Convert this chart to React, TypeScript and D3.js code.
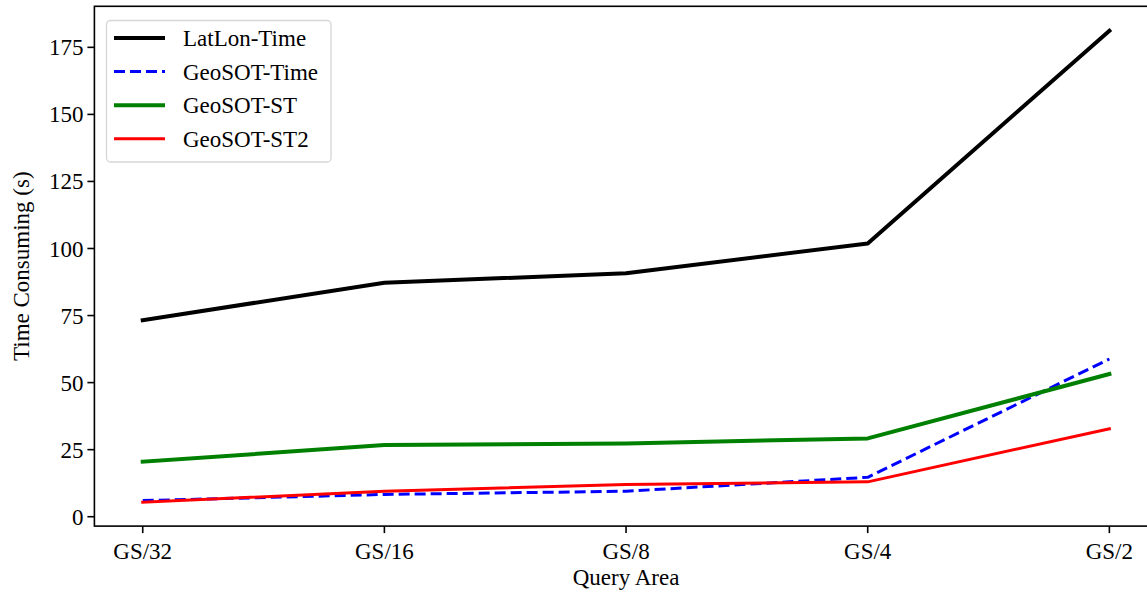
import React from "react";
import * as d3 from "d3";

const categories = ["GS/32", "GS/16", "GS/8", "GS/4", "GS/2"];
const latLonTime = [73.3, 87.2, 90.8, 101.9, 181.2];
const geoSOTTime = [6.0, 8.3, 9.5, 14.7, 58.8];
const geoSOTST = [20.5, 26.7, 27.3, 29.2, 53.2];
const geoSOTST2 = [5.4, 9.5, 12.0, 13.0, 32.8];
const yTicks = [0, 25, 50, 75, 100, 125, 150, 175];

const series = [
  { name: "LatLon-Time", values: latLonTime, color: "#000000", width: 4, dash: "" },
  { name: "GeoSOT-Time", values: geoSOTTime, color: "#0000ff", width: 3, dash: "11,5" },
  { name: "GeoSOT-ST", values: geoSOTST, color: "#008000", width: 4, dash: "" },
  { name: "GeoSOT-ST2", values: geoSOTST2, color: "#ff0000", width: 3, dash: "" },
];

const W = 1147;
const H = 599;
const left = 94.4;
const right = 1157.7;
const top = 6.3;
const bottom = 526.1;
const font = "'Liberation Serif', 'Times New Roman', serif";
const fs = 23;

export default function App() {
  const x = d3.scaleLinear().domain([-0.2, 4.2]).range([left, right]);
  const y = d3.scaleLinear().domain([-3.5, 190.3]).range([bottom, top]);
  const line = d3
    .line<number>()
    .x((_, i) => x(i))
    .y((v) => y(v));

  return (
    <div style={{ position: "absolute", left: 0, top: 0 }}>
      <svg width={W} height={H} style={{ display: "block", background: "#fff" }}>
        <defs>
          <clipPath id="plot">
            <rect x={left} y={top} width={right - left} height={bottom - top} />
          </clipPath>
        </defs>
        <g clipPath="url(#plot)">
          {series.map((s) => (
            <path
              key={s.name}
              d={line(s.values) || ""}
              fill="none"
              stroke={s.color}
              strokeWidth={s.width}
              strokeDasharray={s.dash || undefined}
              strokeLinejoin="round"
              strokeLinecap={s.dash ? "butt" : "square"}
            />
          ))}
        </g>
        <rect
          x={left}
          y={top}
          width={right - left}
          height={bottom - top}
          fill="none"
          stroke="#000"
          strokeWidth={1.6}
        />
        {yTicks.map((t) => (
          <g key={t}>
            <line x1={left - 7} x2={left} y1={y(t)} y2={y(t)} stroke="#000" strokeWidth={1.6} />
            <text
              x={left - 11}
              y={y(t)}
              dy="0.35em"
              textAnchor="end"
              fontFamily={font}
              fontSize={fs}
              fill="#000"
            >
              {t}
            </text>
          </g>
        ))}
        {categories.map((c, i) => (
          <g key={c}>
            <line x1={x(i)} x2={x(i)} y1={bottom} y2={bottom + 7} stroke="#000" strokeWidth={1.6} />
            <text
              x={x(i)}
              y={bottom + 33}
              textAnchor="middle"
              fontFamily={font}
              fontSize={fs}
              fill="#000"
            >
              {c}
            </text>
          </g>
        ))}
        <text
          x={(left + right) / 2}
          y={585}
          textAnchor="middle"
          fontFamily={font}
          fontSize={fs}
          fill="#000"
        >
          Query Area
        </text>
        <text
          transform={`translate(29,${(top + bottom) / 2}) rotate(-90)`}
          textAnchor="middle"
          fontFamily={font}
          fontSize={fs}
          fill="#000"
        >
          Time Consuming (s)
        </text>
        <g>
          <rect
            x={106.5}
            y={20.5}
            width={224.5}
            height={141.5}
            rx={4}
            fill="#fff"
            fillOpacity={0.8}
            stroke="#d6d6d6"
            strokeWidth={1.3}
          />
          {series.map((s, i) => {
            const ly = 38 + i * 33.6;
            return (
              <g key={s.name}>
                <line
                  x1={114}
                  x2={165}
                  y1={ly}
                  y2={ly}
                  stroke={s.color}
                  strokeWidth={s.width}
                  strokeDasharray={s.dash || undefined}
                />
                <text
                  x={183}
                  y={ly}
                  dy="0.35em"
                  fontFamily={font}
                  fontSize={fs}
                  fill="#000"
                >
                  {s.name}
                </text>
              </g>
            );
          })}
        </g>
      </svg>
    </div>
  );
}
